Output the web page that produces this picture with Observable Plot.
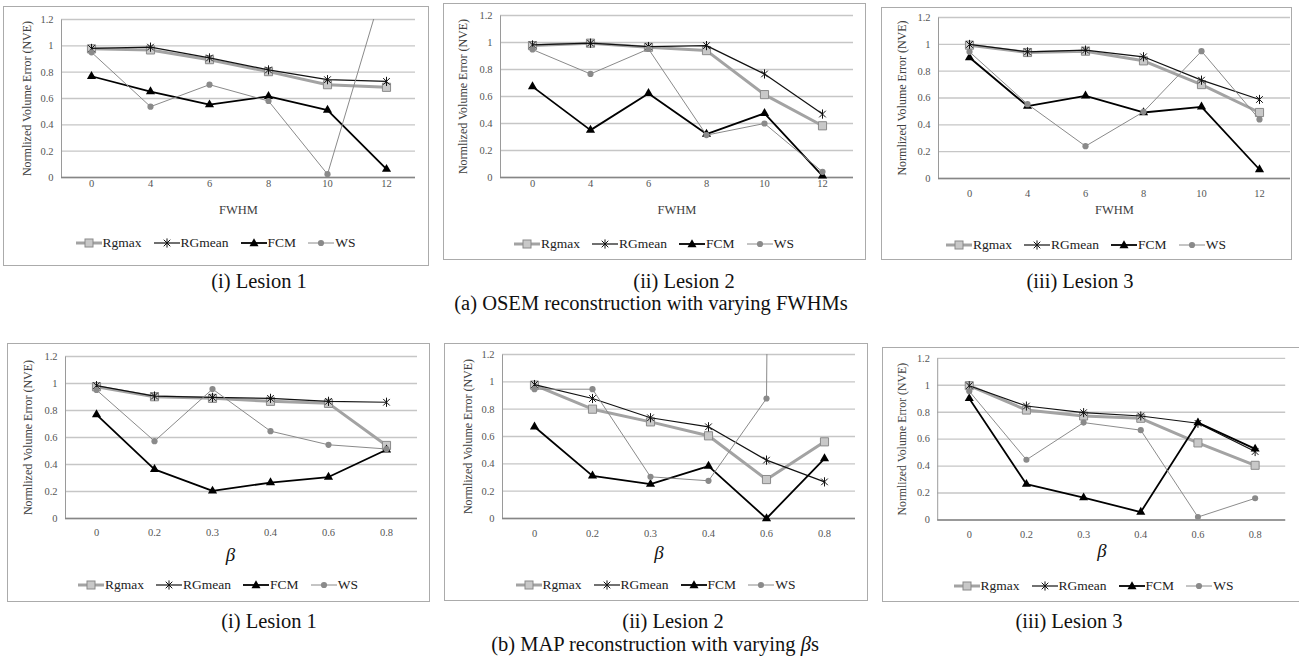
<!DOCTYPE html>
<html>
<head>
<meta charset="utf-8">
<script src="https://cdn.jsdelivr.net/npm/d3@7"></script>
<script src="https://cdn.jsdelivr.net/npm/@observablehq/plot@0.6"></script>
<style>
  html, body { margin: 0; padding: 0; background: #fff; }
  #root { position: relative; width: 1299px; height: 662px; overflow: hidden; font-family: "Liberation Serif", "Times New Roman", serif; }
  .box { position: absolute; border: 1px solid #ababab; box-sizing: border-box; }
  .chart { position: absolute; }
  .chart svg { display: block; overflow: visible; font-family: "Liberation Serif", "Times New Roman", serif; }
  .legend { position: absolute; display: flex; justify-content: center; align-items: center; height: 16px; font-size: 13.5px; color: #222; white-space: nowrap; font-family: "Liberation Serif", serif; }
  .legend .item { display: flex; align-items: center; margin: 0 6px; }
  .legend svg { display: block; margin-right: 1px; }
  .cap { position: absolute; transform: translateX(-50%); font-size: 20.5px; line-height: 24px; height: 24px; white-space: nowrap; color: #111; font-family: "Liberation Serif", serif; }
</style>
</head>
<body>
<div id="root"></div>
<script>
// ---------- data ----------
const series = ["Rgmax", "RGmean", "FCM", "WS"];
const fwhmLabels = ["0", "4", "6", "8", "10", "12"];
const betaLabels = ["0", "0.2", "0.3", "0.4", "0.6", "0.8"];
const yTickValues = [0, 0.2, 0.4, 0.6, 0.8, 1, 1.2];
const yTitle = "Normlized Volume Error (NVE)";
const fwhmTitle = "FWHM";
const betaTitle = "β";
const lesionCaptions = ["(i) Lesion 1", "(ii) Lesion 2", "(iii) Lesion 3"];
const osemTitle = "(a) OSEM reconstruction with varying FWHMs";
const mapTitleHtml = "(b) MAP reconstruction with varying <i>β</i>s";

// OSEM, varying FWHM
const osemL1Rgmax  = [0.977, 0.969, 0.895, 0.804, 0.705, 0.685];
const osemL1RGmean = [0.980, 0.990, 0.908, 0.817, 0.743, 0.730];
const osemL1FCM    = [0.769, 0.652, 0.553, 0.616, 0.512, 0.063];
const osemL1WS     = [0.951, 0.538, 0.705, 0.581, 0.025, 1.53];

const osemL2Rgmax  = [0.977, 0.995, 0.965, 0.940, 0.614, 0.383];
const osemL2RGmean = [0.982, 0.995, 0.970, 0.977, 0.767, 0.470];
const osemL2FCM    = [0.673, 0.351, 0.623, 0.322, 0.475, 0.012];
const osemL2WS     = [0.948, 0.767, 0.952, 0.314, 0.400, 0.042];

const osemL3Rgmax  = [0.994, 0.939, 0.949, 0.877, 0.700, 0.492];
const osemL3RGmean = [0.999, 0.944, 0.957, 0.907, 0.733, 0.589];
const osemL3FCM    = [0.902, 0.539, 0.616, 0.492, 0.534, 0.067];
const osemL3WS     = [0.944, 0.554, 0.241, 0.497, 0.949, 0.440];

// MAP, varying beta
const mapL1Rgmax  = [0.976, 0.902, 0.890, 0.868, 0.853, 0.541];
const mapL1RGmean = [0.984, 0.907, 0.897, 0.890, 0.868, 0.861];
const mapL1FCM    = [0.770, 0.364, 0.204, 0.266, 0.307, 0.509];
const mapL1WS     = [0.952, 0.573, 0.959, 0.647, 0.546, 0.515];

const mapL2Rgmax  = [0.976, 0.800, 0.707, 0.605, 0.285, 0.561];
const mapL2RGmean = [0.980, 0.878, 0.737, 0.671, 0.427, 0.268];
const mapL2FCM    = [0.671, 0.312, 0.251, 0.383, 0.000, 0.439];
const mapL2WS     = [0.946, 0.946, 0.305, 0.276, 0.878, 50];

const mapL3Rgmax  = [0.997, 0.816, 0.772, 0.755, 0.572, 0.406];
const mapL3RGmean = [0.997, 0.846, 0.797, 0.772, 0.718, 0.508];
const mapL3FCM    = [0.902, 0.266, 0.166, 0.059, 0.723, 0.528];
const mapL3WS     = [0.956, 0.447, 0.723, 0.667, 0.022, 0.161];

// ---------- styles ----------
const serif = "'Liberation Serif', 'Times New Roman', serif";
const starSymbol = {
  draw(ctx, size) {
    const r = Math.sqrt(size / Math.PI);
    const a = r * 0.72;
    ctx.moveTo(-a, -a); ctx.lineTo(a, a);
    ctx.moveTo(-a, a); ctx.lineTo(a, -a);
    ctx.moveTo(0, -r); ctx.lineTo(0, r);
  }
};
const styles = {
  Rgmax:  { line: { stroke: "#a3a3a3", strokeWidth: 3 },   dot: { symbol: "square", r: 4.6, fill: "#c8c8c8", stroke: "#8a8a8a", strokeWidth: 1 } },
  RGmean: { line: { stroke: "#111", strokeWidth: 1.2 },    dot: { symbol: starSymbol, r: 4.6, fill: "none", stroke: "#111", strokeWidth: 1 } },
  FCM:    { line: { stroke: "#000", strokeWidth: 1.8 },    dot: { symbol: "triangle", r: 3.4, fill: "#000", stroke: "none" } },
  WS:     { line: { stroke: "#8a8a8a", strokeWidth: 1 },   dot: { symbol: "circle", r: 3.1, fill: "#8a8a8a", stroke: "none" } }
};
const swatches = {
  Rgmax:  '<line x1="0" y1="7" x2="26" y2="7" stroke="#a3a3a3" stroke-width="3"/><rect x="9" y="3" width="8" height="8" fill="#c8c8c8" stroke="#8a8a8a"/>',
  RGmean: '<line x1="0" y1="7" x2="26" y2="7" stroke="#111" stroke-width="1.2"/><path d="M9.7,3.7L16.3,10.3M9.7,10.3L16.3,3.7M13,2.4L13,11.6" stroke="#111" fill="none"/>',
  FCM:    '<line x1="0" y1="7" x2="26" y2="7" stroke="#000" stroke-width="1.8"/><path d="M13,2.2L17.5,10.2L8.5,10.2Z" fill="#000"/>',
  WS:     '<line x1="0" y1="7" x2="26" y2="7" stroke="#8a8a8a" stroke-width="1"/><circle cx="13" cy="7" r="3.1" fill="#8a8a8a"/>'
};

// ---------- layout (page pixels) ----------
const panels = [
  { box: [3, 6, 428, 265],     plot: [61, 19, 415, 177],   xPad: 2,  titleY: 213, titleDx: 0,   legendY: 243, ylabX: 27,  cats: fwhmLabels, values: [osemL1Rgmax, osemL1RGmean, osemL1FCM, osemL1WS], beta: false },
  { box: [443, 3, 865, 259],   plot: [500, 15, 853, 177],  xPad: 2,  titleY: 213, titleDx: 0,   legendY: 244, ylabX: 463, cats: fwhmLabels, values: [osemL2Rgmax, osemL2RGmean, osemL2FCM, osemL2WS], beta: false },
  { box: [881, 7, 1291, 259],  plot: [938, 17, 1290, 178], xPad: 11, titleY: 213, titleDx: 0,   legendY: 245, ylabX: 902, cats: fwhmLabels, values: [osemL3Rgmax, osemL3RGmean, osemL3FCM, osemL3WS], beta: false },
  { box: [7, 343, 429, 601],   plot: [65, 356, 417, 518],  xPad: 10, titleY: 560, titleDx: -11, legendY: 585, ylabX: 28,  cats: betaLabels, values: [mapL1Rgmax, mapL1RGmean, mapL1FCM, mapL1WS], beta: true },
  { box: [444, 343, 867, 600], plot: [502, 354, 855, 518], xPad: 11, titleY: 558, titleDx: -20, legendY: 585, ylabX: 468, cats: betaLabels, values: [mapL2Rgmax, mapL2RGmean, mapL2FCM, mapL2WS], beta: true },
  { box: [882, 347, 1305, 601],plot: [938, 358, 1291, 522],xPad: 11, titleY: 560, titleDx: -10, legendY: 586, ylabX: 902, cats: betaLabels, values: [mapL3Rgmax, mapL3RGmean, mapL3FCM, mapL3WS], beta: true }
];

const captions = [
  { text: lesionCaptions[0], x: 259, y: 281 },
  { text: lesionCaptions[1], x: 684, y: 281 },
  { text: lesionCaptions[2], x: 1080, y: 281 },
  { text: osemTitle, x: 651, y: 303 },
  { text: lesionCaptions[0], x: 269, y: 621 },
  { text: lesionCaptions[1], x: 673, y: 621 },
  { text: lesionCaptions[2], x: 1069, y: 621 },
  { html: mapTitleHtml, x: 655, y: 644 }
];

const root = document.getElementById("root");

function makePanel(p) {
  const [bl, bt, br, bb] = p.box;
  const [pl, pt, pr, pb] = p.plot;
  const W = pr - pl, H = pb - pt;
  const rows = [];
  series.forEach((s, i) => p.values[i].forEach((v, j) => rows.push({ series: s, cat: p.cats[j], value: v })));

  const marks = [
    Plot.gridY(yTickValues, { stroke: "#c6c6c6", strokeOpacity: 1, strokeWidth: 1.4 }),
    Plot.frame({ stroke: "#9a9a9a", strokeWidth: 1, strokeDasharray: `0 ${2 * W + H} ${H}` }),
    Plot.ruleY([0], { stroke: "#868686", strokeWidth: 1.3 }),
    Plot.axisY(yTickValues, { tickSize: 0, tickPadding: 8, tickFormat: d => String(d), fontSize: 10.5, fontFamily: serif, fill: "#555", label: null }),
    Plot.axisX(p.cats, { tickSize: 0, tickPadding: p.xPad, fontSize: 10.5, fontFamily: serif, fill: "#555", label: null })
  ];
  series.forEach(s => {
    const d = rows.filter(r => r.series === s);
    const st = styles[s];
    marks.push(Plot.line(d, { x: "cat", y: "value", ...st.line, strokeLinejoin: "round", clip: s === "WS" }));
    marks.push(Plot.dot(d, { x: "cat", y: "value", ...st.dot, clip: s === "WS" }));
  });
  marks.push(Plot.text([p.beta ? betaTitle : fwhmTitle], {
    frameAnchor: "bottom", textAnchor: "middle", dy: p.titleY - pb, dx: p.titleDx, fontFamily: serif,
    fontSize: p.beta ? 19 : 12.5, fontStyle: p.beta ? "italic" : "normal", fill: p.beta ? "#111" : "#404040"
  }));
  marks.push(Plot.text([yTitle], {
    frameAnchor: "left", textAnchor: "middle", dx: p.ylabX - pl, rotate: -90, fontSize: 12, fontFamily: serif, fill: "#404040"
  }));

  const svg = Plot.plot({
    width: br - bl, height: bb - bt,
    marginLeft: pl - bl, marginRight: br - pr, marginTop: pt - bt, marginBottom: bb - pb,
    x: { type: "point", domain: p.cats, padding: 0.5, axis: null },
    y: { domain: [0, 1.2], axis: null },
    style: { fontFamily: serif, background: "transparent", overflow: "visible" },
    marks
  });

  const box = document.createElement("div");
  box.className = "box";
  Object.assign(box.style, { left: bl + "px", top: bt + "px", width: (br - bl + 1) + "px", height: (bb - bt + 1) + "px" });
  root.appendChild(box);

  const holder = document.createElement("div");
  holder.className = "chart";
  Object.assign(holder.style, { left: bl + "px", top: bt + "px" });
  holder.appendChild(svg);
  root.appendChild(holder);

  const leg = document.createElement("div");
  leg.className = "legend";
  Object.assign(leg.style, { left: bl + "px", width: (br - bl) + "px", top: (p.legendY - 8) + "px" });
  leg.innerHTML = series.map(s =>
    `<span class="item"><svg width="26" height="14">${swatches[s]}</svg><span>${s}</span></span>`).join("");
  root.appendChild(leg);
}

panels.forEach(makePanel);

captions.forEach(c => {
  const el = document.createElement("div");
  el.className = "cap";
  if (c.html) el.innerHTML = c.html; else el.textContent = c.text;
  Object.assign(el.style, { left: c.x + "px", top: (c.y - 12) + "px" });
  root.appendChild(el);
});
</script>
</body>
</html>
